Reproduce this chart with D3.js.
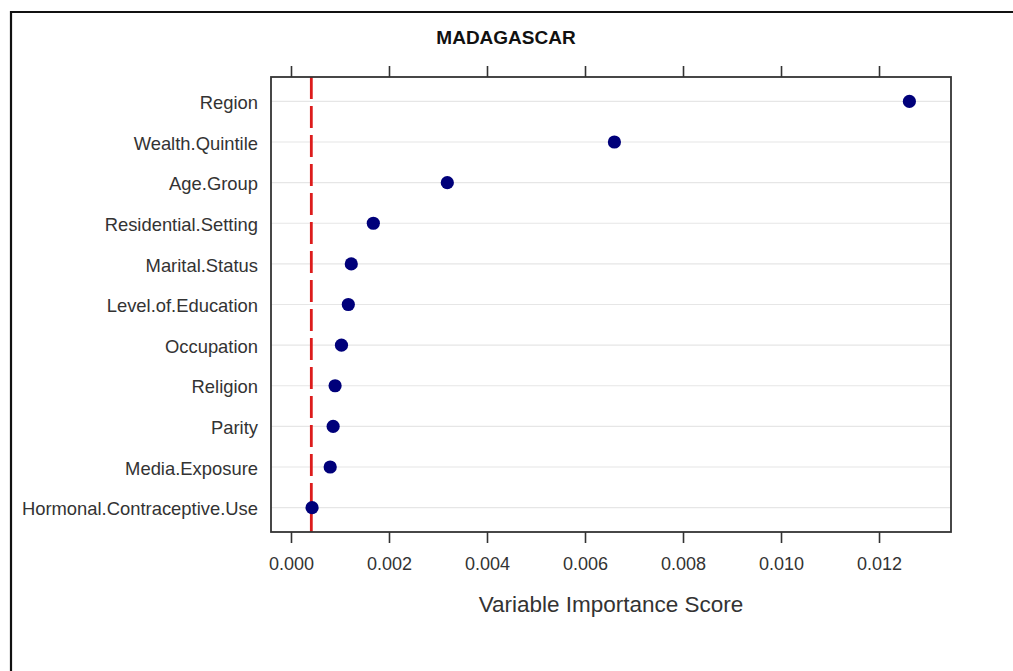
<!DOCTYPE html>
<html>
<head>
<meta charset="utf-8">
<script src="https://cdn.jsdelivr.net/npm/d3@7"></script>
<style>
  html, body { margin: 0; padding: 0; background: #fff; }
  svg { display: block; }
</style>
</head>
<body>
<svg id="chart" width="1013" height="671"></svg>
<script>
const chartTitle = "MADAGASCAR";
const xAxisLabel = "Variable Importance Score";
const categories = ["Region", "Wealth.Quintile", "Age.Group", "Residential.Setting", "Marital.Status",
  "Level.of.Education", "Occupation", "Religion", "Parity", "Media.Exposure", "Hormonal.Contraceptive.Use"];
const scores = [0.01262, 0.00660, 0.00319, 0.00168, 0.00123, 0.00117, 0.00103, 0.00090, 0.00086, 0.00080, 0.00043];
const xTicks = [0, 0.002, 0.004, 0.006, 0.008, 0.010, 0.012];
const referenceLine = 0.000415;

const svg = d3.select("#chart");
const W = 1013, H = 671;
const plot = { left: 271, right: 951, top: 77, bottom: 532 };

// outer frame (left and top only)
svg.append("path")
  .attr("d", `M11,${H} L11,12 L${W},12`)
  .attr("fill", "none").attr("stroke", "#111").attr("stroke-width", 2.2);

const x = d3.scaleLinear().domain([-0.000408, 0.013469]).range([plot.left, plot.right]);
const y = d3.scaleLinear().domain([0.4, categories.length + 0.6]).range([plot.top, plot.bottom]);
const yPos = (i) => y(i + 1);

const font = "'Liberation Sans', Arial, sans-serif";

// grid lines
svg.append("g").selectAll("line").data(categories).join("line")
  .attr("x1", plot.left).attr("x2", plot.right)
  .attr("y1", (d, i) => yPos(i)).attr("y2", (d, i) => yPos(i))
  .attr("stroke", "#e6e6e6").attr("stroke-width", 1.2);

// red dashed reference line
svg.append("line")
  .attr("x1", x(referenceLine)).attr("x2", x(referenceLine))
  .attr("y1", plot.top).attr("y2", plot.bottom)
  .attr("stroke", "#dd1c1c").attr("stroke-width", 2.8)
  .attr("stroke-dasharray", "22,7");

// axes
const fmt = d3.format(".3f");
const bottomAxis = d3.axisBottom(x).tickValues(xTicks).tickFormat(fmt).tickSizeOuter(0).tickSizeInner(11).tickPadding(14);
const gB = svg.append("g").attr("transform", `translate(0,${plot.bottom})`).call(bottomAxis);
gB.select(".domain").remove();
gB.selectAll("line").attr("stroke", "#333").attr("stroke-width", 1.6);
gB.selectAll("text").attr("font-family", font).attr("font-size", 18).attr("fill", "#333");

const topAxis = d3.axisTop(x).tickValues(xTicks).tickFormat("").tickSizeOuter(0).tickSizeInner(11);
const gT = svg.append("g").attr("transform", `translate(0,${plot.top})`).call(topAxis);
gT.select(".domain").remove();
gT.selectAll("line").attr("stroke", "#333").attr("stroke-width", 1.6);

// category labels
svg.append("g").selectAll("text").data(categories).join("text")
  .attr("x", 258).attr("y", (d, i) => yPos(i))
  .attr("dy", "0.42em")
  .attr("text-anchor", "end")
  .attr("font-family", font).attr("font-size", 18.4).attr("fill", "#333")
  .text(d => d);

// plot frame
svg.append("rect")
  .attr("x", plot.left).attr("y", plot.top)
  .attr("width", plot.right - plot.left).attr("height", plot.bottom - plot.top)
  .attr("fill", "none").attr("stroke", "#333").attr("stroke-width", 1.8);

// dots
svg.append("g").selectAll("circle").data(scores).join("circle")
  .attr("cx", d => x(d)).attr("cy", (d, i) => yPos(i))
  .attr("r", 6.6)
  .attr("fill", "#00007a");

// title
svg.append("text")
  .attr("x", 506).attr("y", 44)
  .attr("text-anchor", "middle")
  .attr("font-family", font).attr("font-weight", "bold").attr("font-size", 19).attr("fill", "#111")
  .text(chartTitle);

// x axis label
svg.append("text")
  .attr("x", (plot.left + plot.right) / 2).attr("y", 612)
  .attr("text-anchor", "middle")
  .attr("font-family", font).attr("font-size", 22.5).attr("fill", "#333")
  .text(xAxisLabel);
</script>
</body>
</html>
